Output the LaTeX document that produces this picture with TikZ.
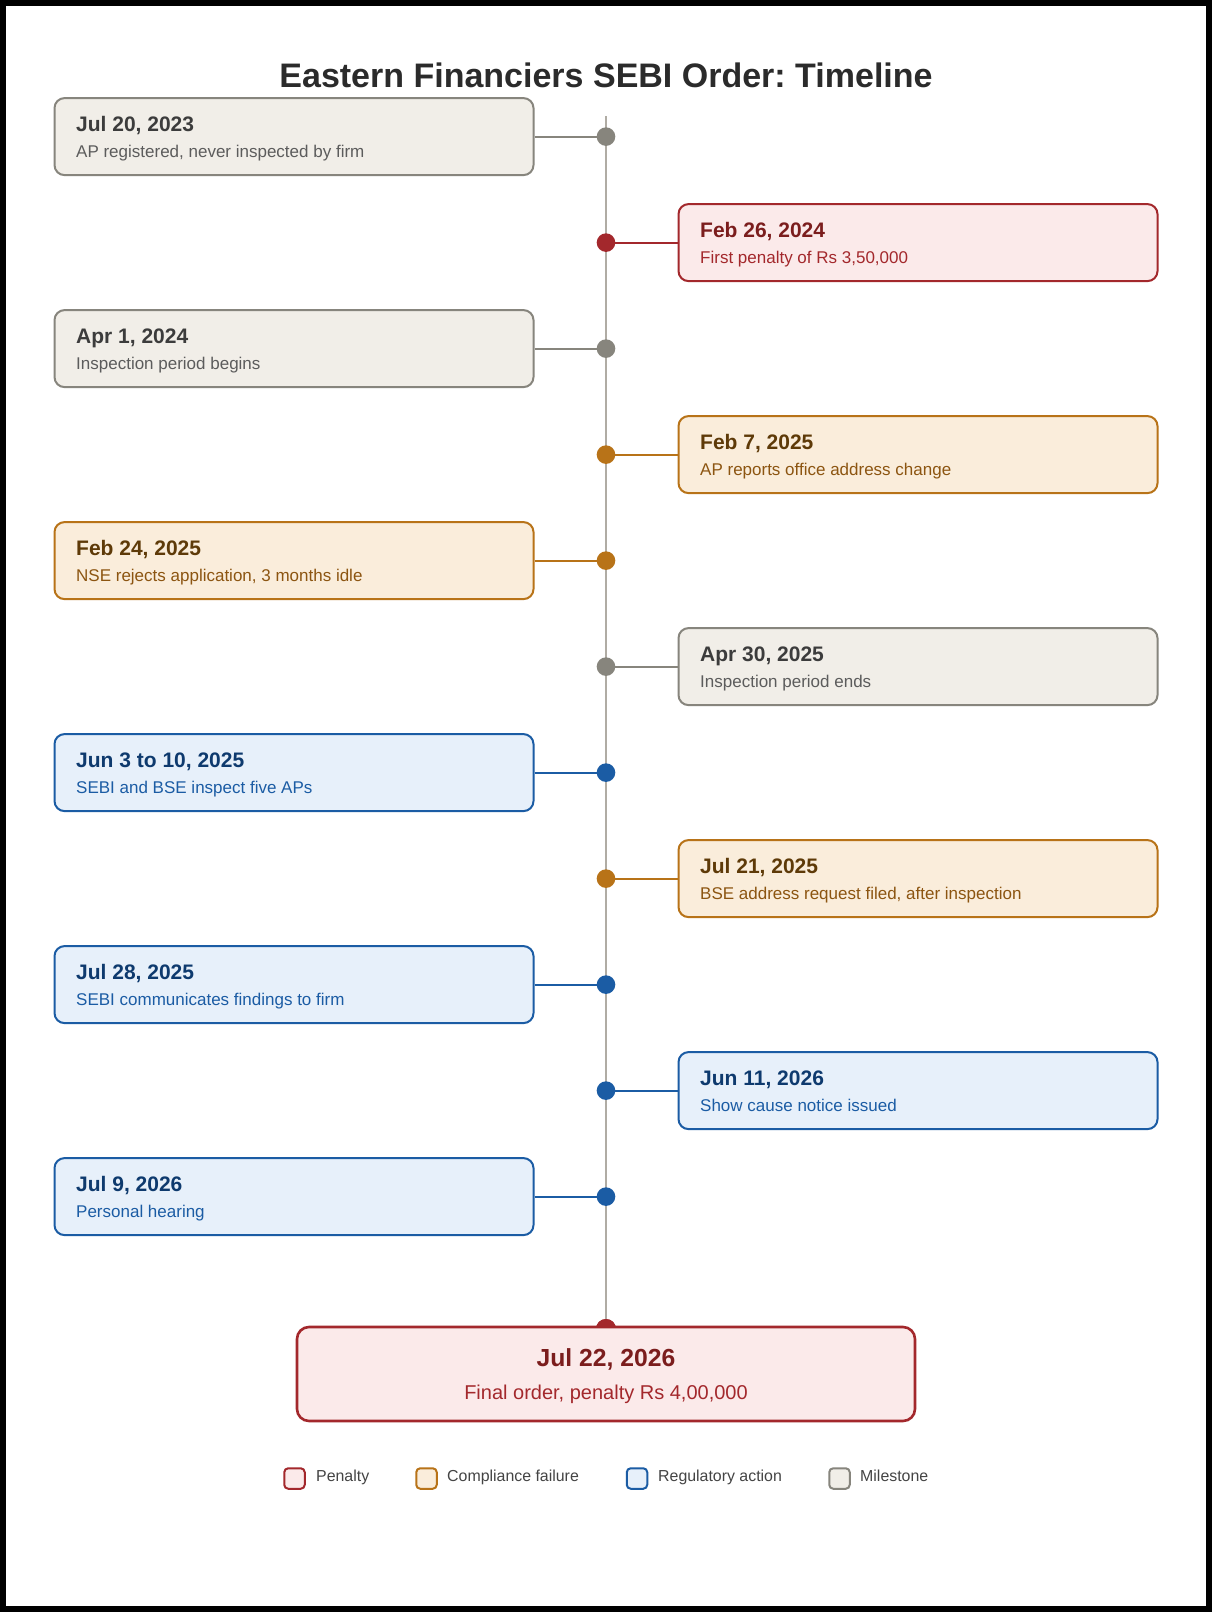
\documentclass[tikz,border=0pt]{standalone}
\usepackage{fontspec}
\setmainfont{Liberation Sans}
\frenchspacing
\definecolor{penD}{HTML}{A3282C}
\definecolor{penF}{HTML}{FBEAEA}
\definecolor{penT}{HTML}{7B1D1D}
\definecolor{penS}{HTML}{A3282C}
\definecolor{compD}{HTML}{B87318}
\definecolor{compF}{HTML}{FAEDDB}
\definecolor{compT}{HTML}{5E3A08}
\definecolor{compS}{HTML}{8C5511}
\definecolor{regD}{HTML}{1B5CA4}
\definecolor{regF}{HTML}{E7F0FA}
\definecolor{regT}{HTML}{0E3A6E}
\definecolor{regS}{HTML}{1B5CA4}
\definecolor{milD}{HTML}{87857D}
\definecolor{milF}{HTML}{F1EEE8}
\definecolor{milT}{HTML}{3C3C3C}
\definecolor{milS}{HTML}{5C5C5C}
\definecolor{lineC}{HTML}{B0ACA4}
\definecolor{titleC}{HTML}{2B2B2B}
\definecolor{legC}{HTML}{444444}
\tikzset{
  evbox/.style={draw=#1D, fill=#1F, line width=2pt, rounded corners=10pt,
    minimum width=479pt, minimum height=77pt, inner sep=0pt},
  evdot/.style={circle, fill=#1D, inner sep=0pt, minimum size=18.6pt},
  evlink/.style={draw=#1D, line width=2pt},
  evdate/.style={anchor=base west, inner sep=0pt, text=#1T,
    font=\fontsize{21}{25}\selectfont\bfseries},
  evsub/.style={anchor=base west, inner sep=0pt, text=#1S,
    font=\fontsize{17}{20}\selectfont},
  legbox/.style={draw=#1D, fill=#1F, line width=2pt, rounded corners=4pt,
    minimum size=20.5pt, inner sep=0pt},
  legtext/.style={anchor=base west, inner sep=0pt, text=legC,
    font=\fontsize{15.9}{19}\selectfont},
}
\newcommand\tlevent[6]{%
  \pgfmathsetmacro\tly{136.6+106*#3}%
  \ifx L#2\def\tlx{294}\else\def\tlx{918}\fi
  \node[evbox=#4] (b#1) at (\tlx,\tly) {};
  \ifx L#2
    \draw[evlink=#4] (b#1.east) -- (606,\tly);
  \else
    \draw[evlink=#4] (b#1.west) -- (606,\tly);
  \fi
  \node[evdot=#4] (d#1) at (606,\tly) {};
  \node[evdate=#4, xshift=22.5pt, yshift=5pt] (t#1) at (b#1.west) {#5};
  \node[evsub=#4, xshift=22.5pt, yshift=-20.5pt] (s#1) at (b#1.west) {#6};
}
\begin{document}
\begin{tikzpicture}[x=1pt, y=-1pt]
  \fill[black] (0,0) rectangle (1212,1612);
  \fill[white] (6,6) rectangle (1206,1606);
  \node[anchor=base, inner sep=0pt, text=titleC, font=\fontsize{34}{40}\selectfont\bfseries]
    (title) at (606,87) {Eastern Financiers SEBI Order: Timeline};
  % timeline
  \coordinate (ttop) at (606,116);
  \node[circle, fill=penD, inner sep=0pt, minimum size=20pt] (dF) at (606,1329) {};
  \draw[lineC, line width=2.8pt] (ttop) -- (dF.center);
  \node[circle, fill=penD, inner sep=0pt, minimum size=20pt] at (dF) {};
  % events
  \tlevent{0}{L}{0}{mil}{Jul 20, 2023}{AP registered, never inspected by firm}
  \tlevent{1}{R}{1}{pen}{Feb 26, 2024}{First penalty of Rs 3,50,000}
  \tlevent{2}{L}{2}{mil}{Apr 1, 2024}{Inspection period begins}
  \tlevent{3}{R}{3}{comp}{Feb 7, 2025}{AP reports office address change}
  \tlevent{4}{L}{4}{comp}{Feb 24, 2025}{NSE rejects application, 3 months idle}
  \tlevent{5}{R}{5}{mil}{Apr 30, 2025}{Inspection period ends}
  \tlevent{6}{L}{6}{reg}{Jun 3 to 10, 2025}{SEBI and BSE inspect five APs}
  \tlevent{7}{R}{7}{comp}{Jul 21, 2025}{BSE address request filed, after inspection}
  \tlevent{8}{L}{8}{reg}{Jul 28, 2025}{SEBI communicates findings to firm}
  \tlevent{9}{R}{9}{reg}{Jun 11, 2026}{Show cause notice issued}
  \tlevent{10}{L}{10}{reg}{Jul 9, 2026}{Personal hearing}
  % final
  \node[draw=penD, fill=penF, line width=2.6pt, rounded corners=12pt,
    minimum width=618pt, minimum height=94pt, inner sep=0pt] (bF) at (606,1374) {};
  \node[anchor=base, inner sep=0pt, text=penT, font=\fontsize{24.7}{30}\selectfont\bfseries]
    (tF) at (606,1366) {Jul 22, 2026};
  \node[anchor=base, inner sep=0pt, text=penS, font=\fontsize{20}{24}\selectfont]
    (sF) at (606,1399) {Final order, penalty Rs 4,00,000};
  % legend
  \node[legbox=pen] (l1) at (294.5,1478.5) {};
  \node[legtext] (lt1) at (316,1481.7) {Penalty};
  \node[legbox=comp] (l2) at (426.5,1478.5) {};
  \node[legtext] (lt2) at (447,1481.7) {Compliance failure};
  \node[legbox=reg] (l3) at (637,1478.5) {};
  \node[legtext] (lt3) at (658,1481.7) {Regulatory action};
  \node[legbox=mil] (l4) at (839.5,1478.5) {};
  \node[legtext] (lt4) at (860,1481.7) {Milestone};
\end{tikzpicture}
\end{document}
